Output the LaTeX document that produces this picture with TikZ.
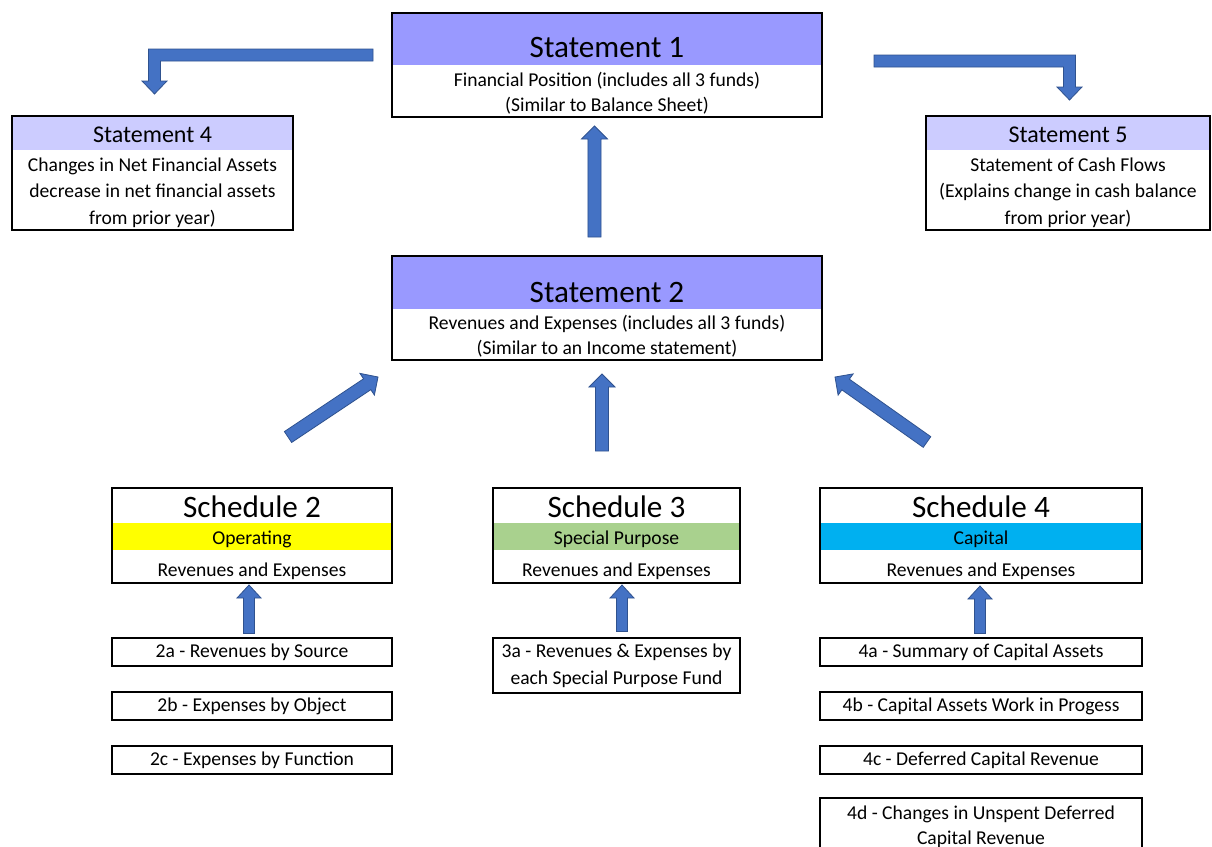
\documentclass[tikz,border=0pt]{standalone}
\usepackage{fontspec}
\setmainfont{Carlito}
\usetikzlibrary{calc}

\definecolor{hdrdark}{HTML}{9999FF}
\definecolor{hdrlight}{HTML}{CCCCFF}
\definecolor{opyellow}{HTML}{FFFF00}
\definecolor{spgreen}{HTML}{A9D18E}
\definecolor{capblue}{HTML}{00B0F0}
\definecolor{arrowfill}{HTML}{4472C4}
\definecolor{arrowedge}{HTML}{2F528F}

\tikzset{
  box/.style 2 args={draw=black, line width=1.5pt, outer sep=0pt, inner sep=0pt,
    minimum width=#1*0.75pt, minimum height=#2*0.75pt},
  bigtitle/.style={font=\fontsize{23.4}{27}\selectfont, inner sep=0pt},
  midtitle/.style={font=\fontsize{18}{22}\selectfont, inner sep=0pt},
  body/.style={font=\fontsize{14.7}{18.75}\selectfont, align=center, inner sep=0pt,
    yshift=-1.1pt},
  blockfill/.style={fill=arrowfill, draw=arrowedge, line width=0.6pt, line join=miter},
}

% sizes of the straight block arrows
\newcommand{\shafthalf}{4.9pt}
\newcommand{\headhalf}{9.75pt}
\newcommand{\headlen}{9.75pt}

% straight block arrow from tail to tip
\newcommand{\blockarrow}[2]{%
  \coordinate (hb) at ($(#2)!\headlen!(#1)$);
  \draw[blockfill] ($(#1)!\shafthalf!90:(#2)$) -- ($(hb)!\shafthalf!90:(#2)$)
    -- ($(hb)!\headhalf!90:(#2)$) -- (#2) -- ($(hb)!\headhalf!-90:(#2)$)
    -- ($(hb)!\shafthalf!-90:(#2)$) -- ($(#1)!\shafthalf!-90:(#2)$) -- cycle;}

% bent block arrow: across, then down; #3 = 1 going left, -1 going right
\newcommand{\bentarrow}[3]{%
  \draw[blockfill] ($(#1)+(0,-6)$) -- ($(#1 -| #2)+(-6*#3,-6)$) -- ($(#2)+(-6*#3,-13)$)
    -- ($(#2)+(-12.5*#3,-13)$) -- (#2) -- ($(#2)+(12.5*#3,-13)$) -- ($(#2)+(6*#3,-13)$)
    -- ($(#1 -| #2)+(6*#3,6)$) -- ($(#1)+(0,6)$) -- cycle;}

\begin{document}
\begin{tikzpicture}[x=0.75pt, y=-0.75pt]
    \path[use as bounding box, fill=white] (0,0) rectangle (1212,846);

    % statements
    \node[box={430}{104}] (st1) at (607,65) {};
    \fill[hdrdark] ($(st1.north west)+(1,1)$) rectangle ($(st1.north east)+(-1,52)$);
    \node[bigtitle] (st1t) at ($(st1.north)+(0,34.5)$) {Statement 1};
    \node[body] (st1b) at ($(st1.north)+(0,78.5)$)
        {Financial Position (includes all 3 funds)\\(Similar to Balance Sheet)};

    \node[box={430}{104}] (st2) at (607,308) {};
    \fill[hdrdark] ($(st2.north west)+(1,1)$) rectangle ($(st2.north east)+(-1,53)$);
    \node[bigtitle] (st2t) at ($(st2.north)+(0,36)$) {Statement 2};
    \node[body] (st2b) at ($(st2.north)+(0,78.5)$)
        {Revenues and Expenses (includes all 3 funds)\\(Similar to an Income statement)};

    \node[box={281}{114}] (st4) at (152.5,173) {};
    \fill[hdrlight] ($(st4.north west)+(1,1)$) rectangle ($(st4.north east)+(-1,34)$);
    \node[midtitle] (st4t) at ($(st4.north)+(0,18.5)$) {Statement 4};
    \node[body, font=\fontsize{14.7}{19.9}\selectfont] (st4b) at ($(st4.north)+(0,75)$)
        {Changes in Net Financial Assets\\decrease in net financial assets\\from prior year)};

    \node[box={284}{114}] (st5) at (1068,173) {};
    \fill[hdrlight] ($(st5.north west)+(1,1)$) rectangle ($(st5.north east)+(-1,34)$);
    \node[midtitle] (st5t) at ($(st5.north)+(0,18.5)$) {Statement 5};
    \node[body, font=\fontsize{14.7}{19.9}\selectfont] (st5b) at ($(st5.north)+(0,75)$)
        {Statement of Cash Flows\\(Explains change in cash balance\\from prior year)};

    % schedules
    \node[box={280}{95}] (sc2) at (252,535.5) {};
    \fill[opyellow] ($(sc2.north west)+(1,35)$) rectangle ($(sc2.north east)+(-1,62)$);
    \node[bigtitle] (sc2t) at ($(sc2.north)+(0,19)$) {Schedule 2};
    \node[body] (sc2m) at ($(sc2.north)+(0,50)$) {Operating};
    \node[body] (sc2b) at ($(sc2.north)+(0,82)$) {Revenues and Expenses};

    \node[box={247}{95}] (sc3) at (616.5,535.5) {};
    \fill[spgreen] ($(sc3.north west)+(1,35)$) rectangle ($(sc3.north east)+(-1,62)$);
    \node[bigtitle] (sc3t) at ($(sc3.north)+(0,19)$) {Schedule 3};
    \node[body] (sc3m) at ($(sc3.north)+(0,50)$) {Special Purpose};
    \node[body] (sc3b) at ($(sc3.north)+(0,82)$) {Revenues and Expenses};

    \node[box={322}{95}] (sc4) at (981,535.5) {};
    \fill[capblue] ($(sc4.north west)+(1,35)$) rectangle ($(sc4.north east)+(-1,62)$);
    \node[bigtitle] (sc4t) at ($(sc4.north)+(0,19)$) {Schedule 4};
    \node[body] (sc4m) at ($(sc4.north)+(0,50)$) {Capital};
    \node[body] (sc4b) at ($(sc4.north)+(0,82)$) {Revenues and Expenses};

    % sub schedules
    \node[box={280}{28}, body] (s2a) at (252,651) {2a - Revenues by Source};
    \node[box={280}{28}, body] (s2b) at (252,705) {2b - Expenses by Object};
    \node[box={280}{28}, body] (s2c) at (252,759) {2c - Expenses by Function};
    \node[box={247}{55}, body, font=\fontsize{14.7}{20.2}\selectfont] (s3a) at (616.5,664.5)
        {3a - Revenues \& Expenses by\\each Special Purpose Fund};
    \node[box={322}{28}, body] (s4a) at (981,651) {4a - Summary of Capital Assets};
    \node[box={322}{28}, body] (s4b) at (981,705) {4b - Capital Assets Work in Progess};
    \node[box={322}{28}, body] (s4c) at (981,759) {4c - Deferred Capital Revenue};
    \node[box={322}{58}] (s4d) at (981,827) {};
    \node[body] (s4dt) at ($(s4d.north)+(0,27)$)
        {4d - Changes in Unspent Deferred\\Capital Revenue};

    % arrow ends
    \coordinate (a1tail) at ($(st2.north)+(-12.5,-19)$);
    \coordinate (a1tip)  at ($(st1.south)+(-12.5,9)$);
    \coordinate (a2tail) at ($(sc3.north)+(-14.5,-37)$);
    \coordinate (a2tip)  at ($(st2.south)+(-5,14)$);
    \coordinate (a3tail) at ($(sc2.north)+(36,-51)$);
    \coordinate (a3tip)  at ($(st2.south west)+(-14,17)$);
    \coordinate (a4tail) at ($(sc4.north)+(-54,-46)$);
    \coordinate (a4tip)  at ($(st2.south east)+(13,17)$);
    \coordinate (b2tail) at ($(s2a.north)+(-3,-5)$);
    \coordinate (b2tip)  at ($(sc2.south)+(-3,2)$);
    \coordinate (b3tail) at ($(s3a.north)+(5.5,-7)$);
    \coordinate (b3tip)  at ($(sc3.south)+(5.5,2)$);
    \coordinate (b4tail) at ($(s4a.north)+(-1,-5)$);
    \coordinate (b4tip)  at ($(sc4.south)+(-1,3)$);
    \coordinate (c4tail) at ($(st1.west)+(-19,-10)$);
    \coordinate (c4tip)  at ($(st4.north)+(2,-22)$);
    \coordinate (c5tail) at ($(st1.east)+(52,-4)$);
    \coordinate (c5tip)  at ($(st5.north)+(1.5,-16)$);

    % block arrows
    \blockarrow{a1tail}{a1tip}
    \blockarrow{a2tail}{a2tip}
    \blockarrow{a3tail}{a3tip}
    \blockarrow{a4tail}{a4tip}
    \begin{scope}
    \renewcommand{\shafthalf}{4.1pt}
    \renewcommand{\headhalf}{9pt}
    \blockarrow{b2tail}{b2tip}
    \blockarrow{b3tail}{b3tip}
    \blockarrow{b4tail}{b4tip}
    \end{scope}
    \bentarrow{c4tail}{c4tip}{1}
    \bentarrow{c5tail}{c5tip}{-1}
\end{tikzpicture}
\end{document}
